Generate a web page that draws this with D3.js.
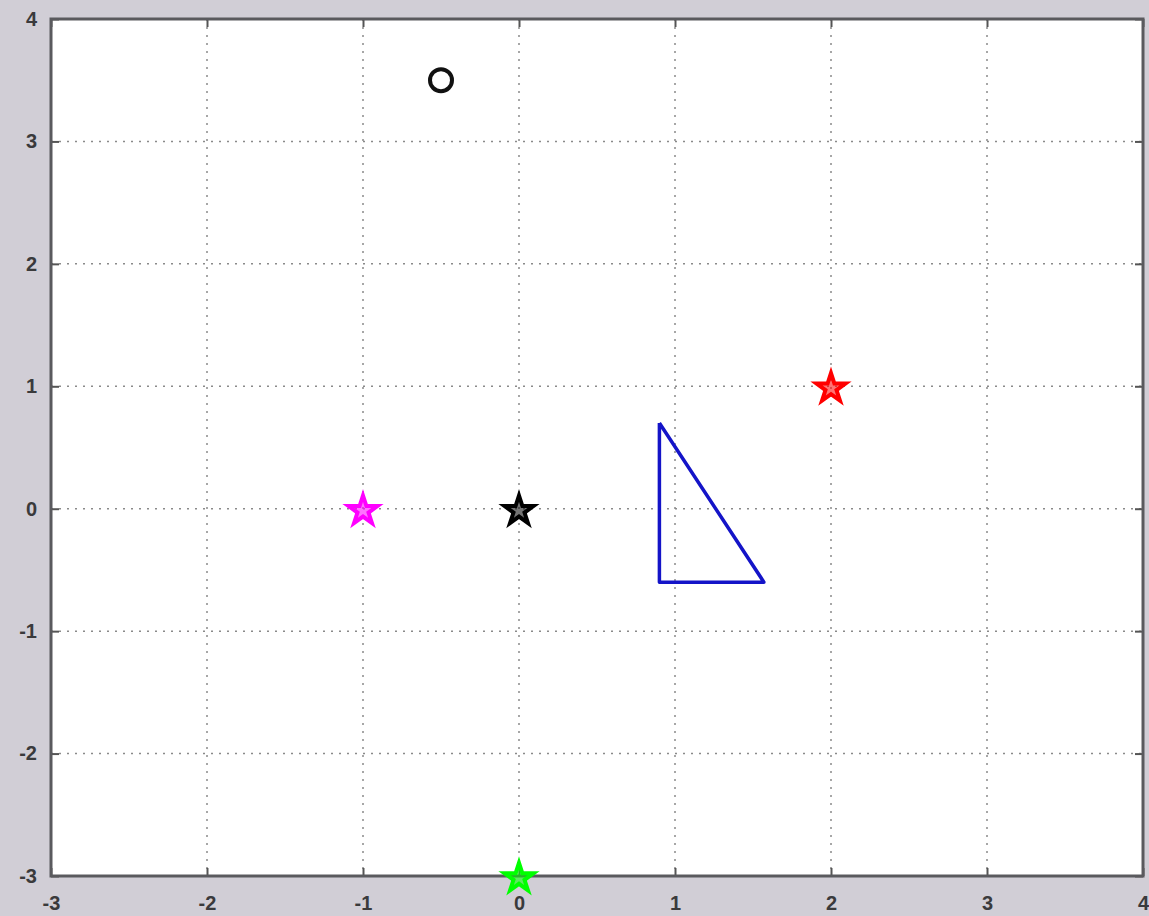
<!DOCTYPE html>
<html>
<head>
<meta charset="utf-8">
<script src="https://cdn.jsdelivr.net/npm/d3@7"></script>
<style>
  body { margin: 0; background: #d1ced6; }
  svg { display: block; }
  .tick text { font-family: "Liberation Sans", Arial, sans-serif; font-size: 20px; font-weight: bold; fill: #3a3a3c; }
</style>
</head>
<body>
<svg width="1149" height="916"></svg>
<script>
// tick values on both axes
var xTicks = [-3, -2, -1, 0, 1, 2, 3, 4];
var yTicks = [-3, -2, -1, 0, 1, 2, 3, 4];

// star markers
var stars = [
  { x: -1, y: 0, color: "#ff00ff" },
  { x: 0, y: 0, color: "#000000" },
  { x: 2, y: 1, color: "#ff0000" },
  { x: 0, y: -3, color: "#00ff00" }
];

// circle marker
var circles = [ { x: -0.5, y: 3.5 } ];

// blue triangle outline
var triX = [0.9, 0.9, 1.57, 0.9];
var triY = [0.7, -0.6, -0.6, 0.7];

var margin = { top: 19, right: 6, bottom: 40, left: 51 };
var width = 1149 - margin.left - margin.right;
var height = 916 - margin.top - margin.bottom;

var svg = d3.select("svg");
var g = svg.append("g")
  .attr("transform", "translate(" + margin.left + "," + margin.top + ")");

var x = d3.scaleLinear().domain([-3, 4]).range([0, width]);
var y = d3.scaleLinear().domain([-3, 4]).range([height, 0]);

g.append("rect")
  .attr("width", width).attr("height", height)
  .attr("fill", "#ffffff");

// dotted grid
g.selectAll(".vgrid").data(xTicks.slice(1, -1)).enter().append("line")
  .attr("x1", function(d){ return x(d); }).attr("x2", function(d){ return x(d); })
  .attr("y1", 0).attr("y2", height)
  .attr("stroke", "#8a8a8a").attr("stroke-width", 1.5).attr("stroke-dasharray", "2,6");
g.selectAll(".hgrid").data(yTicks.slice(1, -1)).enter().append("line")
  .attr("y1", function(d){ return y(d); }).attr("y2", function(d){ return y(d); })
  .attr("x1", 0).attr("x2", width)
  .attr("stroke", "#8a8a8a").attr("stroke-width", 1.5).attr("stroke-dasharray", "2,6");

// axes (ticks point inside)
var xAxis = g.append("g").attr("transform", "translate(0," + height + ")")
  .call(d3.axisBottom(x).tickValues(xTicks).tickSizeInner(-8).tickSizeOuter(0).tickPadding(20));
var yAxis = g.append("g")
  .call(d3.axisLeft(y).tickValues(yTicks).tickSizeInner(-8).tickSizeOuter(0).tickPadding(14));
g.append("g").call(d3.axisTop(x).tickValues(xTicks).tickSizeInner(-8).tickSizeOuter(0).tickFormat(""));
g.append("g").attr("transform", "translate(" + width + ",0)")
  .call(d3.axisRight(y).tickValues(yTicks).tickSizeInner(-8).tickSizeOuter(0).tickFormat(""));

g.selectAll(".domain").remove();
g.selectAll(".tick line").attr("stroke", "#555").attr("stroke-width", 2);
xAxis.selectAll("text").text(function(d){ return d3.format("d")(d).replace("−", "-"); });
yAxis.selectAll("text").text(function(d){ return d3.format("d")(d).replace("−", "-"); })
  .attr("dy", "0.32em");

// frame
g.append("rect")
  .attr("width", width).attr("height", height)
  .attr("fill", "none").attr("stroke", "#5a5a5e").attr("stroke-width", 3);

// triangle
var line = d3.line().x(function(d){ return x(d[0]); }).y(function(d){ return y(d[1]); });
g.append("path")
  .datum(d3.zip(triX, triY))
  .attr("d", line)
  .attr("fill", "none").attr("stroke", "#1414c8").attr("stroke-width", 3.5)
  .attr("stroke-linejoin", "round");

// circle
g.selectAll(".circ").data(circles).enter().append("circle")
  .attr("cx", function(d){ return x(d.x); }).attr("cy", function(d){ return y(d.y); })
  .attr("r", 11).attr("fill", "none").attr("stroke", "#111").attr("stroke-width", 4);

// stars
var star = d3.symbol().type(d3.symbolStar).size(260);
g.selectAll(".star").data(stars).enter().append("path")
  .attr("d", star)
  .attr("transform", function(d){ return "translate(" + x(d.x) + "," + (y(d.y) + 2) + ")"; })
  .attr("fill", function(d){ return d.color; })
  .attr("fill-opacity", 0.55)
  .attr("stroke", function(d){ return d.color; })
  .attr("stroke-width", 4)
  .attr("stroke-linejoin", "miter");
</script>
</body>
</html>
